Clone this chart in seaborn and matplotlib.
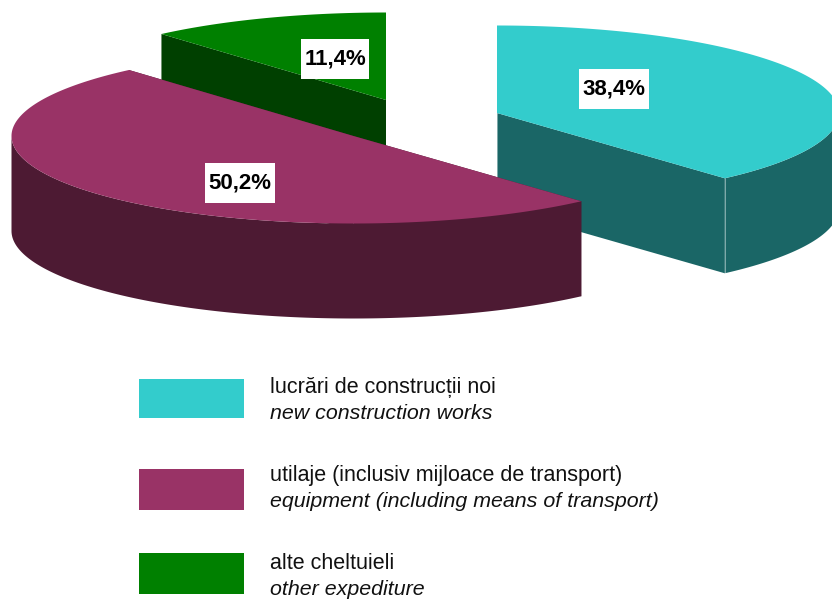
import numpy as np
import seaborn as sns
import matplotlib.pyplot as plt
from matplotlib.patches import Polygon, Rectangle

# values from the chart
shares = [38.4, 50.2, 11.4]
share_labels = ['38,4%', '50,2%', '11,4%']
names_ro = ['lucrări de construcții noi',
            'utilaje (inclusiv mijloace de transport)',
            'alte cheltuieli']
names_en = ['new construction works',
            'equipment (including means of transport)',
            'other expediture']
top_colors = ['#33CCCC', '#993366', '#008000']

# pie layout in pixels
RX, RY, DEPTH = 342, 87.5, 95
centers = [(497, 113), (353.5, 136), (386, 100)]
draw_order = [0, 2, 1]
label_boxes = [(579, 69, 70, 40), (205, 163, 70, 40), (301, 39, 68, 40)]
legend_boxes = [(139, 379, 105, 39), (139, 469, 105, 41), (139, 553, 105, 41)]
legend_baselines = [(393, 419), (481, 507), (569, 595)]

sns.set_theme(style='white')
plt.rcParams['font.family'] = ['Liberation Sans', 'DejaVu Sans']
palette = sns.color_palette(top_colors)
dark = [tuple(c * 0.5 for c in col) for col in palette]


def rim(cx, cy, t):
    # t is clockwise from the top of the ellipse
    return np.column_stack([cx + RX * np.sin(t), cy - RY * np.cos(t)])


fig = plt.figure(figsize=(8.32, 5.99), dpi=100)
ax = fig.add_axes([0, 0, 1, 1])
ax.set_xlim(0, 832)
ax.set_ylim(599, 0)
ax.axis('off')

edges = np.radians(np.concatenate([[0], np.cumsum(shares)]) * 3.6)
down = np.array([0, DEPTH])

for i in draw_order:
    cx, cy = centers[i]
    t0, t1 = edges[i], edges[i + 1]
    apex = np.array([[cx, cy]])
    # cut faces
    for t in (t0, t1):
        p = rim(cx, cy, np.array([t]))
        face = np.vstack([apex, p, p + down, apex + down])
        ax.add_patch(Polygon(face, fc=dark[i], ec='none'))
    # outer wall, only the front half of the ellipse shows
    lo, hi = max(t0, np.pi / 2), min(t1, 3 * np.pi / 2)
    if hi > lo:
        arc = rim(cx, cy, np.linspace(lo, hi, 200))
        ax.add_patch(Polygon(np.vstack([arc, arc[::-1] + down]), fc=dark[i], ec='none'))
    # light seams at the corners
    end = rim(cx, cy, np.array([t1]))[0]
    if i == 0:
        ax.plot([end[0], end[0]], [end[1], end[1] + DEPTH], color='white', lw=0.7, alpha=0.45, zorder=1)
        ax.plot([cx, cx], [cy - RY, cy + DEPTH], color='white', lw=0.7, alpha=0.45, zorder=1)
    if i == 2:
        ax.plot([cx, cx], [cy - RY, cy + DEPTH], color='white', lw=0.7, alpha=0.45, zorder=1)
    # top
    top = np.vstack([apex, rim(cx, cy, np.linspace(t0, t1, 200))])
    ax.add_patch(Polygon(top, fc=palette[i], ec='none'))

for (x, y, w, h), txt in zip(label_boxes, share_labels):
    ax.add_patch(Rectangle((x, y), w, h, fc='white', ec='none', zorder=5))
    ax.text(x + w / 2, y + h / 2 + 0.5, txt, ha='center', va='center',
            fontsize=16, fontweight='bold', color='black', zorder=6)

for i, (x, y, w, h) in enumerate(legend_boxes):
    ax.add_patch(Rectangle((x, y), w, h, fc=palette[i], ec='none'))
    y1, y2 = legend_baselines[i]
    ax.text(270, y1, names_ro[i], va='baseline', fontsize=15.5, color='#111111')
    ax.text(270, y2, names_en[i], va='baseline', fontsize=15.4, style='italic', color='#111111')

fig.savefig('out.png', dpi=100)
